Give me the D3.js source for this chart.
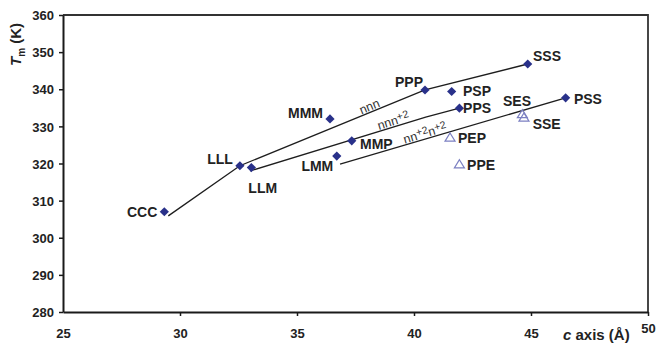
<!DOCTYPE html>
<html>
<head>
<meta charset="utf-8">
<script src="https://cdn.jsdelivr.net/npm/d3@7"></script>
<style>
  html, body { margin: 0; padding: 0; background: #fff; }
  svg { display: block; font-family: "Liberation Sans", Arial, sans-serif; }
</style>
</head>
<body>
<svg id="chart" width="657" height="348"></svg>
<script>
// Melting temperature vs. c-axis length for triacylglycerols
const xTicks = [25, 30, 35, 40, 45, 50];
const yTicks = [280, 290, 300, 310, 320, 330, 340, 350, 360];

// Filled diamonds
const diamondNames = ["CCC", "LLL", "LLM", "MMM", "LMM", "MMP", "PPP", "PSP", "PPS", "SSS", "PSS"];
const diamondC     = [29.33, 32.56, 33.05, 36.41, 36.70, 37.34, 40.47, 41.61, 41.94, 44.86, 46.48];
const diamondTm    = [307.0, 319.4, 318.9, 332.0, 322.0, 326.1, 339.8, 339.4, 334.9, 346.8, 337.7];

// Open triangles
const triangleNames = ["PEP", "PPE", "SES", "SSE"];
const triangleC     = [41.54, 41.94, 44.63, 44.70];
const triangleTm    = [327.0, 319.8, 333.3, 332.4];

// Guide lines for the three chain-length families
const lineNnn   = [[29.50, 305.9], [32.56, 319.4], [40.47, 339.8], [44.86, 346.8]];
const lineNnn2  = [[33.00, 318.0], [40.50, 332.5], [41.94, 334.9]];
const lineNn2n2 = [[36.84, 319.8], [46.48, 337.7]];

// Label text for each guide line: [text, superscript?]
const labelNnn   = [["nnn", false]];
const labelNnn2  = [["nnn", false], ["+2", true]];
const labelNn2n2 = [["nn", false], ["+2", true], ["n", false], ["+2", true]];

// Point-label placement (dx, dy from the marker, text anchor)
const labelPlace = {
  CCC: [-7, 0.6, "end"],  LLL: [-7, -6.7, "end"], LLM: [-3, 20.6, "start"],
  MMM: [-7, -5.7, "end"], LMM: [-3.5, 10, "end"], MMP: [8.3, 3.3, "start"],
  PPP: [-2, -8.3, "end"], PSP: [11.3, 0, "start"], PPS: [3.7, 0, "start"],
  SSS: [5.3, -8, "start"], PSS: [8.3, 1.3, "start"],
  PEP: [8, 0.6, "start"], PPE: [7.7, 0.7, "start"],
  SES: [-19.3, -13, "start"], SSE: [8.7, 7, "start"]
};

const svg = d3.select("#chart");
const plotLeft = 63, plotRight = 648, plotTop = 15, plotBottom = 312;

const x = d3.scaleLinear().domain([25, 50]).range([plotLeft, plotRight]);
const y = d3.scaleLinear().domain([280, 360]).range([plotBottom, plotTop]);

// Frame: top and right borders
svg.append("path")
  .attr("d", `M${plotLeft},${plotTop}H${plotRight}V${plotBottom}`)
  .attr("fill", "none").attr("stroke", "#333").attr("stroke-width", 1.8);

// Y axis
const yAxis = svg.append("g").attr("transform", `translate(${plotLeft},0)`)
  .call(d3.axisLeft(y).tickValues(yTicks).tickSize(4).tickSizeOuter(0));
yAxis.select(".domain").attr("stroke", "#1a1a1a").attr("stroke-width", 2);
yAxis.selectAll(".tick line").attr("stroke", "#1a1a1a").attr("stroke-width", 1.5);
yAxis.selectAll(".tick text")
  .attr("x", -9).attr("dy", "0.36em")
  .attr("font-size", 13).attr("font-weight", "bold").attr("fill", "#222");

// X axis
const xAxis = svg.append("g").attr("transform", `translate(0,${plotBottom})`)
  .call(d3.axisBottom(x).tickValues(xTicks).tickSize(4).tickSizeOuter(0));
xAxis.select(".domain").attr("stroke", "#1a1a1a").attr("stroke-width", 2);
xAxis.selectAll(".tick line").attr("stroke", "#1a1a1a").attr("stroke-width", 1.5);
xAxis.selectAll(".tick text")
  .attr("y", d => d === 50 ? 21 : 26).attr("dy", 0)
  .attr("font-size", 13).attr("font-weight", "bold").attr("fill", "#222");
xAxis.selectAll(".tick").filter(d => d === 25).select("line").remove();

// Axis titles
const yTitle = svg.append("text")
  .attr("transform", "translate(21,44.5) rotate(-90)")
  .attr("text-anchor", "middle")
  .attr("font-size", 15).attr("font-weight", "bold").attr("fill", "#222");
yTitle.append("tspan").attr("font-style", "italic").text("T");
yTitle.append("tspan").attr("font-size", 10).attr("dy", 4).text("m");
yTitle.append("tspan").attr("dy", -4).text(" (K)");

const xTitle = svg.append("text")
  .attr("x", 563).attr("y", 340)
  .attr("font-size", 15).attr("font-weight", "bold").attr("fill", "#222");
xTitle.append("tspan").attr("font-style", "italic").text("c");
xTitle.append("tspan").text(" axis (Å)");

// Guide lines
const line = d3.line().x(d => x(d[0])).y(d => y(d[1]));
const guides = [
  { pts: lineNnn,   label: labelNnn,   at: 38.19 },
  { pts: lineNnn2,  label: labelNnn2,  at: 39.19 },
  { pts: lineNn2n2, label: labelNn2n2, at: 40.54 }
];
guides.forEach(g => {
  svg.append("path").attr("d", line(g.pts))
    .attr("fill", "none").attr("stroke", "#1e1e1e").attr("stroke-width", 1.3);

  // place the label on the segment containing g.at, rotated to follow it
  let i = 0;
  while (i < g.pts.length - 2 && g.pts[i + 1][0] < g.at) i++;
  const a = g.pts[i], b = g.pts[i + 1];
  const t = (g.at - a[0]) / (b[0] - a[0]);
  const px = x(g.at), py = y(a[1] + t * (b[1] - a[1]));
  const ang = Math.atan2(y(b[1]) - y(a[1]), x(b[0]) - x(a[0])) * 180 / Math.PI;
  const txt = svg.append("text")
    .attr("transform", `translate(${px},${py}) rotate(${ang})`)
    .attr("y", -1.5)
    .attr("text-anchor", "middle")
    .attr("font-size", 12.5).attr("fill", "#333");
  let raised = false;
  g.label.forEach(([s, sup]) => {
    const sp = txt.append("tspan").text(s);
    if (sup && !raised) { sp.attr("dy", -3.5).attr("font-size", 10.5); raised = true; }
    else if (sup) { sp.attr("font-size", 10.5); }
    else if (raised) { sp.attr("dy", 3.5); raised = false; }
  });
});

// Markers
const diamondPath = "M0,-4.6L4.6,0L0,4.6L-4.6,0Z";
const trianglePath = "M0,-4.5L5,3.6L-5,3.6Z";

const diamonds = diamondNames.map((n, i) => ({ n, c: diamondC[i], t: diamondTm[i] }));
const triangles = triangleNames.map((n, i) => ({ n, c: triangleC[i], t: triangleTm[i] }));

svg.append("g").selectAll("path").data(diamonds).join("path")
  .attr("d", diamondPath)
  .attr("transform", d => `translate(${x(d.c)},${y(d.t)})`)
  .attr("fill", "#29318a");

svg.append("g").selectAll("path").data(triangles).join("path")
  .attr("d", trianglePath)
  .attr("transform", d => `translate(${x(d.c)},${y(d.t)})`)
  .attr("fill", "none").attr("stroke", "#7c80c2").attr("stroke-width", 1.2);

// Point labels
svg.append("g").selectAll("text").data(diamonds.concat(triangles)).join("text")
  .attr("x", d => x(d.c) + labelPlace[d.n][0])
  .attr("y", d => y(d.t) + labelPlace[d.n][1] + 5)
  .attr("text-anchor", d => labelPlace[d.n][2])
  .attr("font-size", 14).attr("font-weight", "bold").attr("fill", "#222")
  .text(d => d.n);
</script>
</body>
</html>
